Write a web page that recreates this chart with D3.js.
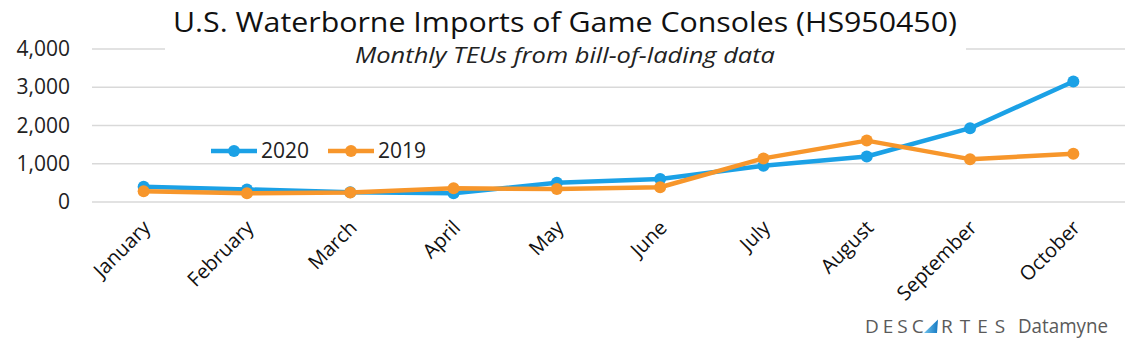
<!DOCTYPE html>
<html>
<head>
<meta charset="utf-8">
<script src="https://cdn.jsdelivr.net/npm/d3@7"></script>
<style>
  body { margin: 0; background: #fff; }
  svg { display: block; font-family: "Open Sans", "Noto Sans", sans-serif; }
</style>
</head>
<body>
<div id="chart"></div>
<script>
// ====== Waterborne imports of game consoles ======

let months = ['January', 'February', 'March', 'April', 'May', 'June',
              'July', 'August', 'September', 'October'];
let teus2020 = [400, 330, 255, 230, 505, 600, 950, 1190, 1930, 3150];
let teus2019 = [280, 230, 250, 360, 340, 385, 1140, 1605, 1120, 1260];
let yTicks = [0, 1000, 2000, 3000, 4000];

let series = [
    {name: '2020', values: teus2020, color: '#1BA1E6'},
    {name: '2019', values: teus2019, color: '#F7962B'}
];

let width = 1140, height = 352,
    margin = {top: 49, right: 15, bottom: 150, left: 92};

let svg = d3.select('#chart').append('svg')
    .attr('width', width)
    .attr('height', height);

let x = d3.scalePoint()
    .domain(months)
    .range([margin.left, width - margin.right])
    .padding(0.5);

let y = d3.scaleLinear()
    .domain([0, 4000])
    .range([height - margin.bottom, margin.top]);

// Gridlines:
svg.append('g')
    .selectAll('line')
    .data(yTicks)
  .enter().append('line')
    .attr('x1', margin.left)
    .attr('x2', width - margin.right)
    .attr('y1', d => y(d))
    .attr('y2', d => y(d))
    .attr('stroke', '#d9d9d9')
    .attr('stroke-width', 1.5);

// Y axis labels:
svg.append('g')
    .selectAll('text')
    .data(yTicks)
  .enter().append('text')
    .attr('x', 70)
    .attr('y', d => y(d) + 7)
    .attr('text-anchor', 'end')
    .attr('font-size', 21)
    .attr('fill', '#222')
    .text(d3.format(','));

// X axis labels, rotated:
svg.append('g')
    .selectAll('text')
    .data(months)
  .enter().append('text')
    .attr('transform', d => 'translate(' + (x(d) + 8) + ',' + 229 + ') rotate(-45)')
    .attr('text-anchor', 'end')
    .attr('font-size', 20)
    .attr('fill', '#111')
    .text(d => d);

// Title box covers the top gridline:
svg.append('rect')
    .attr('x', 165).attr('y', 0)
    .attr('width', 801).attr('height', 72)
    .attr('fill', '#fff');

svg.append('text')
    .attr('x', 173)
    .attr('y', 32)
    .attr('font-size', 27)
    .attr('fill', '#111')
    .attr('textLength', 784)
    .attr('lengthAdjust', 'spacingAndGlyphs')
    .text('U.S. Waterborne Imports of Game Consoles (HS950450)');

svg.append('text')
    .attr('x', 355)
    .attr('y', 63)
    .attr('font-size', 22)
    .attr('font-style', 'italic')
    .attr('fill', '#222')
    .attr('textLength', 420)
    .attr('lengthAdjust', 'spacingAndGlyphs')
    .text('Monthly TEUs from bill-of-lading data');

// Lines and markers:
let line = d3.line()
    .x((d, i) => x(months[i]))
    .y(d => y(d));

let groups = svg.selectAll('.series')
    .data(series)
  .enter().append('g')
    .attr('class', 'series');

groups.append('path')
    .attr('d', d => line(d.values))
    .attr('fill', 'none')
    .attr('stroke', d => d.color)
    .attr('stroke-width', 4.5)
    .attr('stroke-linejoin', 'round');

groups.selectAll('circle')
    .data(d => d.values.map(v => ({v: v, color: d.color})))
  .enter().append('circle')
    .attr('cx', (d, i) => x(months[i]))
    .attr('cy', d => y(d.v))
    .attr('r', 6)
    .attr('fill', d => d.color);

// Legend:
let legend = svg.selectAll('.legend')
    .data(series)
  .enter().append('g')
    .attr('class', 'legend')
    .attr('transform', (d, i) => 'translate(' + (211 + i * 117) + ',151)');

legend.append('line')
    .attr('x1', 0).attr('x2', 46)
    .attr('stroke', d => d.color)
    .attr('stroke-width', 4.5);

legend.append('circle')
    .attr('cx', 23).attr('r', 6)
    .attr('fill', d => d.color);

legend.append('text')
    .attr('x', 50)
    .attr('y', 7)
    .attr('font-size', 21)
    .attr('fill', '#222')
    .text(d => d.name);

// Logo:
let grad = svg.append('defs').append('linearGradient')
    .attr('id', 'logo-grad')
    .attr('x1', 0).attr('y1', 0).attr('x2', 1).attr('y2', 0);
grad.append('stop').attr('offset', '0%').attr('stop-color', '#6EC3EE');
grad.append('stop').attr('offset', '100%').attr('stop-color', '#1679C2');

let logo = svg.append('g').attr('transform', 'translate(865,333)');
logo.append('text')
    .attr('font-size', 19)
    .attr('fill', '#5a5a5a')
    .attr('letter-spacing', 4)
    .text('DESC');
logo.append('path')
    .attr('d', 'M59,0 L73,-13.5 L72,0 Z')
    .attr('fill', 'url(#logo-grad)');
logo.append('text')
    .attr('x', 76)
    .attr('font-size', 19)
    .attr('fill', '#5a5a5a')
    .attr('letter-spacing', 7)
    .text('RTES');
logo.append('text')
    .attr('x', 153)
    .attr('font-size', 20)
    .attr('fill', '#5a5a5a')
    .attr('textLength', 90)
    .attr('lengthAdjust', 'spacingAndGlyphs')
    .text('Datamyne');
</script>
</body>
</html>
